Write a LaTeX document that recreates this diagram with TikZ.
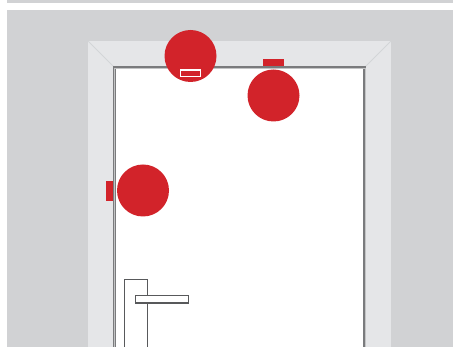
\documentclass[tikz,border=0pt]{standalone}
\definecolor{wallgrey}{HTML}{D1D2D4}
\definecolor{framegrey}{HTML}{E5E6E8}
\definecolor{mitregrey}{HTML}{D3D5D7}
\definecolor{edgegrey}{HTML}{7A7B7D}
\definecolor{markred}{HTML}{D2232A}
\definecolor{handlegrey}{HTML}{58595B}
\tikzset{
  px/.style={x=1pt,y=-1pt},
  markdot/.style={fill=markred,draw=none},
  handleline/.style={draw=handlegrey,line width=1.3pt,fill=white},
}
\begin{document}
\begin{tikzpicture}[px]
\useasboundingbox (0,0) rectangle (453,347);
\fill[white] (0,0) rectangle (453,347);
\fill[wallgrey] (7,0) rectangle (453,3);
\fill[wallgrey] (7,10) rectangle (453,347);
% frame
\fill[framegrey] (88,41) -- (391,41) -- (391,347) -- (88,347) -- cycle;
\draw[mitregrey,line width=0.8pt] (88,41) -- (114,67);
\draw[mitregrey,line width=0.8pt] (391,41) -- (365,67);
% door leaf
\fill[edgegrey] (113,66.5) rectangle (366.2,347);
\fill[white] (116.2,69.2) rectangle (363.4,347);
\draw[white!55!edgegrey,line width=0.5pt] (114.6,67.9) -- (364.8,67.9);
\draw[white!55!edgegrey,line width=0.5pt] (114.6,67.9) -- (114.6,347);
\draw[white!55!edgegrey,line width=0.5pt] (364.8,67.9) -- (364.8,347);
% handle
\draw[handleline] (124.8,348) -- (124.8,279.3) -- (147.6,279.3) -- (147.6,348);
\draw[handleline] (135.3,295.4) rectangle (188.6,302.9);
% red markers
\fill[markdot] (263,59) rectangle (283.5,66);
\fill[markdot] (106,181) rectangle (113.2,201);
\fill[markdot] (190.5,56) circle (26);
\fill[markdot] (273.5,95.5) circle (26);
\fill[markdot] (143,190.5) circle (26);
\draw[white,line width=1.8pt] (180.5,69.8) rectangle (200.5,76.6);
\end{tikzpicture}
\end{document}
